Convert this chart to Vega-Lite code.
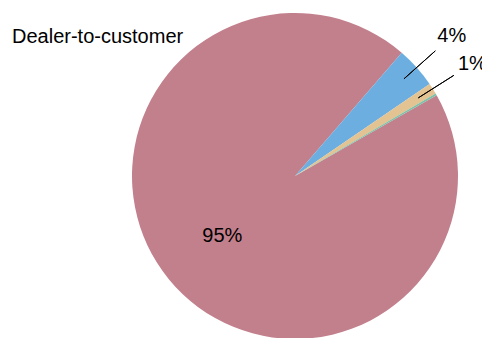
{
  "$schema": "https://vega.github.io/schema/vega-lite/v6.json",
  "width": 326,
  "height": 326,
  "autosize": {"type": "none"},
  "padding": {"left": 132, "top": 13, "right": 24, "bottom": 0},
  "background": "white",
  "config": {"view": {"stroke": null}, "font": "Liberation Sans"},
  "title": {
    "text": "Dealer-to-customer",
    "anchor": "start",
    "frame": "group",
    "dx": -120,
    "dy": 63,
    "fontSize": 20,
    "fontWeight": "normal",
    "font": "Liberation Sans",
    "color": "black"
  },
  "data": {
    "values": [
      {"seg": "Dealer-to-customer", "rank": 1, "share": 0.946},
      {"seg": "Dealer-to-dealer", "rank": 2, "share": 0.041},
      {"seg": "Customer-to-dealer", "rank": 3, "share": 0.011},
      {"seg": "Other", "rank": 4, "share": 0.002}
    ]
  },
  "encoding": {
    "theta": {"field": "share", "type": "quantitative", "stack": true, "scale": {"range": [1.0531, 7.3363]}},
    "order": {"field": "rank", "type": "quantitative"}
  },
  "layer": [
    {
      "mark": {"type": "arc", "outerRadius": 163},
      "encoding": {
        "color": {
          "field": "seg",
          "type": "nominal",
          "scale": {
            "domain": ["Dealer-to-customer", "Dealer-to-dealer", "Customer-to-dealer", "Other"],
            "range": ["#C27F8C", "#6CAEE0", "#E2C391", "#7FBFA8"]
          },
          "legend": null
        }
      }
    },
    {
      "mark": {"type": "arc", "innerRadius": 146, "outerRadius": 188, "padAngle": 1, "filled": false, "stroke": "black", "strokeWidth": 1},
      "encoding": {
        "detail": {"field": "seg", "type": "nominal"},
        "strokeOpacity": {"condition": {"test": "datum.share > 0.005 && datum.share < 0.5", "value": 1}, "value": 0}
      }
    },
    {
      "mark": {"type": "text", "radius": 210, "fontSize": 20, "font": "Liberation Sans", "color": "black", "align": "center", "baseline": "middle"},
      "encoding": {
        "detail": {"field": "seg", "type": "nominal"},
        "text": {"field": "share", "type": "quantitative", "format": ".0%"},
        "opacity": {"condition": {"test": "datum.share > 0.005 && datum.share < 0.5", "value": 1}, "value": 0}
      }
    },
    {
      "mark": {"type": "text", "radius": 94, "fontSize": 20, "font": "Liberation Sans", "color": "black", "align": "center", "baseline": "middle"},
      "encoding": {
        "detail": {"field": "seg", "type": "nominal"},
        "text": {"field": "share", "type": "quantitative", "format": ".0%"},
        "opacity": {"condition": {"test": "datum.share >= 0.5", "value": 1}, "value": 0}
      }
    }
  ]
}
